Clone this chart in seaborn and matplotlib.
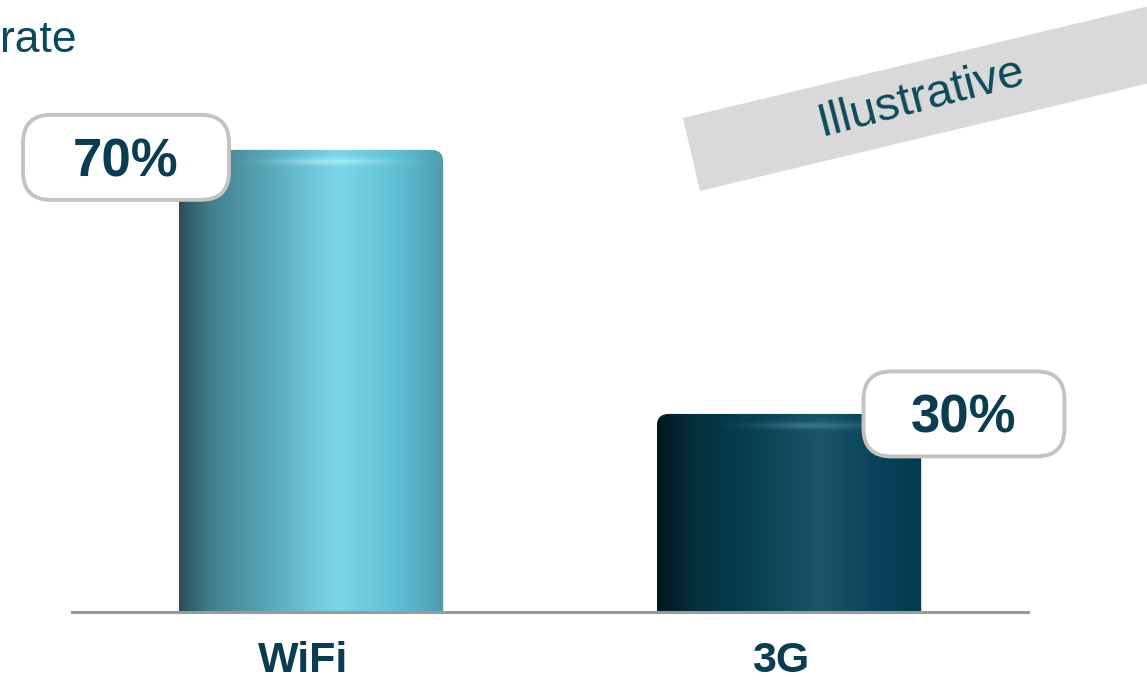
import numpy as np
import matplotlib
matplotlib.use("Agg")
import matplotlib.pyplot as plt
import seaborn as sns
from matplotlib.patches import FancyBboxPatch, Polygon
from matplotlib.colors import LinearSegmentedColormap, to_rgb
from matplotlib.transforms import ScaledTranslation

# ---- data ----
categories = ["WiFi", "3G"]
shares = [70, 30]
value_labels = ["70%", "30%"]
title_fragment = "rate"
stamp_text = "Illustrative"

# ---- style ----
sns.set_theme(style="white")
plt.rcParams['font.family'] = ['Liberation Sans', 'DejaVu Sans']
DARK = "#0b3d52"

W, H = 1147, 684
fig = plt.figure(figsize=(W / 100, H / 100), dpi=100)
ax = fig.add_axes([72 / W, 72 / H, 956 / W, 612 / H])
sns.barplot(x=categories, y=shares, width=0.553, ax=ax, color="#5ab8cc")
XLIM = (-0.5, 1.5)
YLIM = (0, 92.7)
px_x = 956 / (XLIM[1] - XLIM[0])   # pixels per x unit
px_y = 612 / (YLIM[1] - YLIM[0])   # pixels per y unit
asp = px_x / px_y

gradients = [
    [(0.0, '#2c4f5a'), (0.12, '#437f8e'), (0.35, '#5aaabb'), (0.6, '#7dd6ea'),
     (0.85, '#5cbcd1'), (1.0, '#4f9aab')],
    [(0.0, '#011820'), (0.15, '#05303e'), (0.35, '#073e50'), (0.62, '#1b5568'),
     (0.85, '#07415a'), (1.0, '#053a4e')],
]
highlights = ['#b8f6ff', '#4a8ca2']

for i, p in enumerate(list(ax.patches)):
    x0, w, h = p.get_x(), p.get_width(), p.get_height()
    p.set_visible(False)
    clip = FancyBboxPatch((x0, -4), w, h + 4,
                          boxstyle=f"round,pad=0,rounding_size={12 / px_x}",
                          mutation_aspect=asp, transform=ax.transData,
                          facecolor='none', edgecolor='none')
    ax.add_patch(clip)
    cmap = LinearSegmentedColormap.from_list(f"g{i}", gradients[i])
    nx = 300
    ny = int((h + 4) * px_y)
    xx = np.linspace(0, 1, nx)
    yy = np.linspace(-4, h, ny)
    base = cmap(xx)[:, :3][None, :, :].repeat(ny, axis=0)
    dpx = (h - yy) * px_y
    band = np.exp(-((dpx - 12) / 3.5) ** 2)[:, None] * np.exp(-((xx - 0.58) / 0.2) ** 2)[None, :]
    hl = np.array(to_rgb(highlights[i]))
    img = base * (1 - 0.6 * band[..., None]) + hl * (0.6 * band[..., None])
    im = ax.imshow(img, extent=[x0, x0 + w, -4, h], aspect='auto',
                   origin='lower', zorder=2, interpolation='bilinear')
    im.set_clip_path(clip)

# value label boxes (offsets from bar centre / bar top, in pixels)
label_dx_px = [-185, 175]
label_dy_px = [-7.5, 0]
box_w_px = [206, 201]
bh = 85 / px_y
for i, (v, lab) in enumerate(zip(shares, value_labels)):
    cx = i + label_dx_px[i] / px_x
    cy = v + label_dy_px[i] / px_y
    bw = box_w_px[i] / px_x
    box = FancyBboxPatch((cx - bw / 2, cy - bh / 2), bw, bh,
                         boxstyle=f"round,pad=0,rounding_size={28 / px_x}",
                         mutation_aspect=asp, facecolor='white',
                         edgecolor='#c3c3bf', linewidth=2.8, zorder=5,
                         clip_on=False)
    ax.add_patch(box)
    ax.text(cx, cy - 19 / px_y, lab, ha='center', va='baseline', fontsize=38,
            fontweight='bold', color=DARK, zorder=6)

ax.set_xlim(*XLIM)
ax.set_ylim(*YLIM)
ax.set_yticks([])
ax.set_xticks([0, 1])
ax.set_xticklabels(categories, fontsize=31, fontweight='bold', color=DARK)
ax.tick_params(axis='x', length=0, pad=21)
for lab in ax.get_xticklabels():
    lab.set_transform(lab.get_transform() + ScaledTranslation(-8 / 100, 0, fig.dpi_scale_trans))
ax.set_xlabel("")
ax.set_ylabel("")
for s in ['top', 'left', 'right']:
    ax.spines[s].set_visible(False)
ax.spines['bottom'].set_color('#9a9a9a')
ax.spines['bottom'].set_linewidth(2.2)
ax.spines['bottom'].set_zorder(3)
ax.patch.set_alpha(0)

# title fragment
fig.text(77 / W, 1 - 52 / H, title_fragment, ha='right', va='baseline',
         fontsize=32, color='#0b4a5e')

# illustrative stamp
pts = [(683, 566), (700, 493), (1283, 633), (1266, 706)]
fig.patches.append(Polygon([(x / W, y / H) for x, y in pts], closed=True,
                           transform=fig.transFigure, facecolor='#d9d9d9',
                           edgecolor='none', zorder=0))
fig.text(921 / W, 586 / H, stamp_text, ha='center', va='center',
         rotation=14.5, rotation_mode='anchor', fontsize=34, color='#0b4a5a')

fig.savefig("out.png", dpi=100)
